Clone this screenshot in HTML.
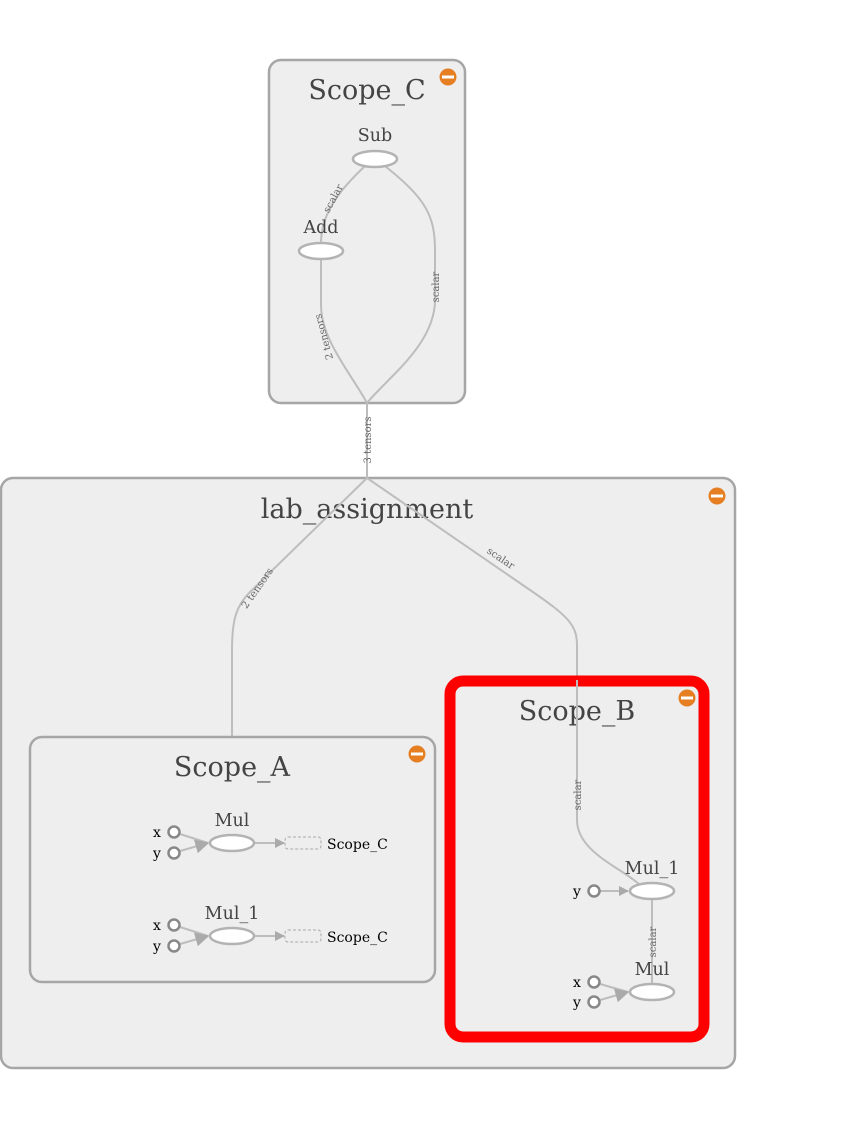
<!DOCTYPE html>
<html><head><meta charset="utf-8"><style>
html,body{margin:0;padding:0;background:#fff;}
svg{display:block;}
.box{fill:#eeeeee;stroke:#a6a6a6;stroke-width:2.5;}
.edge{fill:none;stroke:#bdbdbd;stroke-width:2;}
.op{fill:#fff;stroke:#b3b3b3;stroke-width:2.5;}
.title{font-family:"DejaVu Serif",serif;font-size:27px;fill:#444;text-anchor:middle;}
.nl{font-family:"DejaVu Serif",serif;font-size:17.5px;fill:#444;text-anchor:middle;}
.el{font-family:"DejaVu Serif",serif;font-size:10px;fill:#666;text-anchor:middle;}
.in{fill:#fff;stroke:#888;stroke-width:2.5;}
.il{font-family:"DejaVu Serif",serif;font-size:14px;fill:#000;}
.ref{fill:none;stroke:#aaa;stroke-width:1;stroke-dasharray:3,2;}
</style></head><body>
<svg width="855" height="1129" viewBox="0 0 855 1129">
<defs>
<marker id="ar" viewBox="0 0 10 10" refX="9" refY="5" markerWidth="5" markerHeight="5" orient="auto"><path d="M0,0L10,5L0,10z" fill="#aaa"/></marker>
<marker id="ar2" viewBox="0 0 10 10" refX="9" refY="5" markerWidth="7" markerHeight="7" orient="auto"><path d="M0,0L10,5L0,10z" fill="#aaa"/></marker>
</defs>

<g>
<rect class="box" x="1" y="478" width="734" height="590" rx="12"/>
<text class="title" x="367" y="518">lab_assignment</text>
<g><circle cx="717" cy="496" r="8.5" fill="#e67e22"/><rect x="711" y="494.5" width="12" height="3" fill="#fff"/></g>
</g>

<g>
<rect class="box" x="269" y="60" width="196" height="343" rx="12"/>
<text class="title" x="367" y="99">Scope_C</text>
<g><circle cx="448" cy="77" r="8.5" fill="#e67e22"/><rect x="442" y="75.5" width="12" height="3" fill="#fff"/></g>
</g>
<path class="edge" d="M365,166 C345,185 321,210 321,243"/>
<path class="edge" d="M385,166 C425,198 435,215 435,250 L435,300 C435,345 385,380 367,403"/>
<path class="edge" d="M321,259 L321,305 C321,340 352,375 367,403"/>
<text class="el" transform="translate(336,200) rotate(-62)">scalar</text>
<text class="el" transform="translate(439,287) rotate(-90)">scalar</text>
<text class="el" transform="translate(327,336) rotate(-105)">2 tensors</text>
<ellipse class="op" cx="375" cy="159" rx="22" ry="8"/>
<text class="nl" x="375" y="141">Sub</text>
<ellipse class="op" cx="321" cy="251" rx="22" ry="8"/>
<text class="nl" x="321" y="233">Add</text>

<path class="edge" d="M367,403 L367,478"/>
<text class="el" transform="translate(371,440) rotate(-90)">3 tensors</text>

<path class="edge" d="M367,478 L250,592 C236,606 232,620 232,650 L232,737"/>
<text class="el" transform="translate(260,590) rotate(-55)">2 tensors</text>
<path class="edge" d="M367,478 L530,590 C568,616 577,625 577,645 L577,820 C577,852 622,868 640,885"/>
<text class="el" transform="translate(499,561) rotate(34)">scalar</text>

<g>
<rect class="box" x="30" y="737" width="405" height="245" rx="12"/>
<text class="title" x="232" y="776">Scope_A</text>
<g><circle cx="417" cy="754" r="8.5" fill="#e67e22"/><rect x="411" y="752.5" width="12" height="3" fill="#fff"/></g>
</g>
<g>
<path class="edge" d="M180,834 L208,843 M180,851 L208,843" marker-end="url(#ar2)"/>
<path class="edge" d="M254,843 L284,843" marker-end="url(#ar)"/>
<circle class="in" cx="174" cy="832" r="5.5"/><circle class="in" cx="174" cy="853" r="5.5"/>
<text class="il" x="153" y="837">x</text><text class="il" x="153" y="858">y</text>
<ellipse class="op" cx="232" cy="843" rx="22" ry="8"/>
<text class="nl" x="232" y="826">Mul</text>
<rect class="ref" x="285" y="837" width="36" height="12" rx="3"/>
<text class="il" x="327" y="849">Scope_C</text>
</g>
<g>
<path class="edge" d="M180,927 L208,936 M180,944 L208,936" marker-end="url(#ar2)"/>
<path class="edge" d="M254,936 L284,936" marker-end="url(#ar)"/>
<circle class="in" cx="174" cy="925" r="5.5"/><circle class="in" cx="174" cy="946" r="5.5"/>
<text class="il" x="153" y="930">x</text><text class="il" x="153" y="951">y</text>
<ellipse class="op" cx="232" cy="936" rx="22" ry="8"/>
<text class="nl" x="232" y="919">Mul_1</text>
<rect class="ref" x="285" y="930" width="36" height="12" rx="3"/>
<text class="il" x="327" y="942">Scope_C</text>
</g>

<g>
<rect x="450" y="681" width="254" height="356" rx="13" fill="#eeeeee" stroke="#ff0000" stroke-width="11"/>
<text class="title" x="577" y="720">Scope_B</text>
<g><circle cx="687" cy="698" r="8.5" fill="#e67e22"/><rect x="681" y="696.5" width="12" height="3" fill="#fff"/></g>
</g>
<path class="edge" d="M577,680 L577,820 C577,852 622,868 640,885"/>
<text class="el" transform="translate(581,795) rotate(-90)">scalar</text>
<path class="edge" d="M652,899 L652,984"/>
<text class="el" transform="translate(656,942) rotate(-90)">scalar</text>
<g>
<path class="edge" d="M600,891 L628,891" marker-end="url(#ar)"/>
<circle class="in" cx="594" cy="891" r="5.5"/>
<text class="il" x="573" y="896">y</text>
<ellipse class="op" cx="652" cy="891" rx="22" ry="8"/>
<text class="nl" x="652" y="874">Mul_1</text>
</g>
<g>
<path class="edge" d="M600,984 L628,992 M600,1000 L628,992" marker-end="url(#ar2)"/>
<circle class="in" cx="594" cy="982" r="5.5"/><circle class="in" cx="594" cy="1002" r="5.5"/>
<text class="il" x="573" y="987">x</text><text class="il" x="573" y="1007">y</text>
<ellipse class="op" cx="652" cy="992" rx="22" ry="8"/>
<text class="nl" x="652" y="975">Mul</text>
</g>
</svg>
</body></html>
